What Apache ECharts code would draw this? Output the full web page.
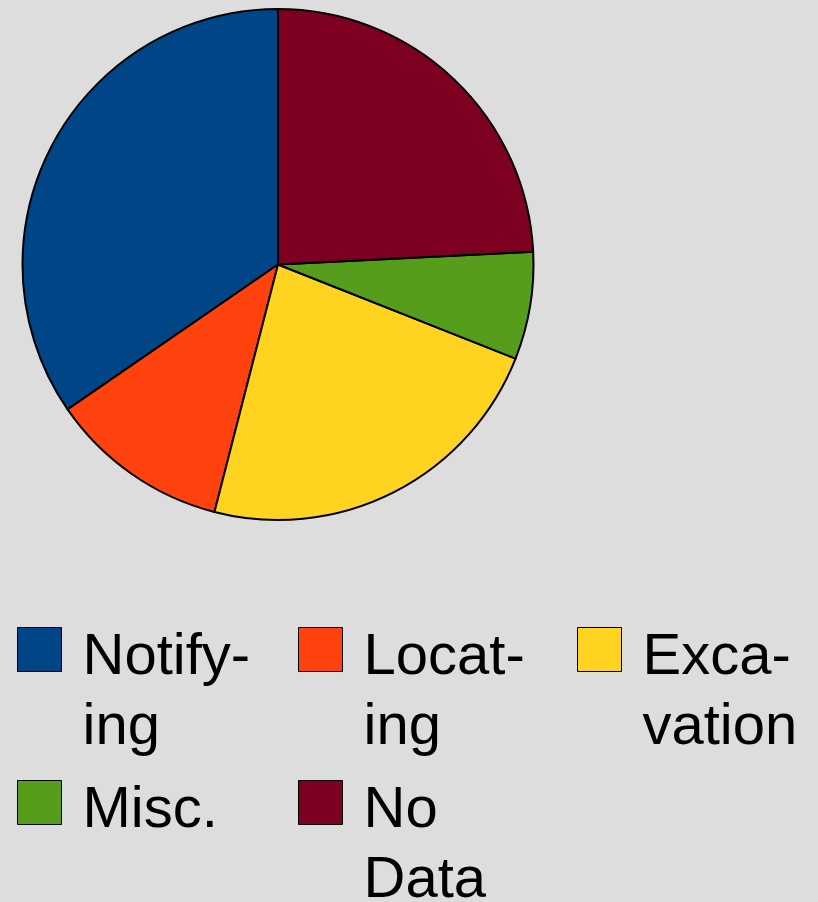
<!DOCTYPE html>
<html>
<head>
<meta charset="utf-8">
<script src="https://cdn.jsdelivr.net/npm/echarts@6/dist/echarts.min.js"></script>
<style>
  html, body { margin: 0; padding: 0; background: #dddddd; }
  #chart { width: 818px; height: 902px; }
</style>
</head>
<body>
<div id="chart"></div>
<script>
// categories, in the order the slices run (counter-clockwise from 12 o'clock)
const categories = ['Notifying', 'Locating', 'Excavation', 'Misc.', 'No Data']
// share of each slice, percent
const shares = [34.6, 11.4, 23.0, 6.8, 24.2]
// legend text lines, hyphenated as in the picture
const legendLines = [['Notify-', 'ing'], ['Locat-', 'ing'], ['Exca-', 'vation'], ['Misc.'], ['No', 'Data']]
const colors = ['#004586', '#ff420e', '#ffd320', '#579d1c', '#7e0021']

const chart = echarts.init(document.getElementById('chart'))

// one legend per entry so each sits in its own column
const legendPos = [
  { left: 17, top: 574.5 },
  { left: 298, top: 574.5 },
  { left: 577, top: 574.5 },
  { left: 17, top: 762.5 },
  { left: 298, top: 727.5 }
]

// the legend centres the whole text block on the icon; a spacer line on top
// pushes the first line down so it sits beside the swatch
const legends = categories.map((name, i) => {
  const lines = legendLines[i]
  const spacer = lines.length > 1 ? 'sp2' : 'sp1'
  return {
    data: [name],
    left: legendPos[i].left,
    top: legendPos[i].top,
    padding: 0,
    orient: 'vertical',
    icon: 'rect',
    itemWidth: 44,
    itemHeight: 44,
    selectedMode: false,
    itemStyle: { borderColor: '#000', borderWidth: 1 },
    formatter: () => '{' + spacer + '| }\n' + lines.map(l => '{t|' + l + '}').join('\n'),
    textStyle: {
      fontFamily: 'Liberation Sans',
      fontSize: 58,
      color: '#000',
      padding: [0, 0, 0, 16],
      rich: {
        sp1: { fontSize: 10, lineHeight: 17 },
        sp2: { fontSize: 10, lineHeight: 87 },
        t: { fontFamily: 'Liberation Sans', fontSize: 58, lineHeight: 70, color: '#000' }
      }
    }
  }
})

chart.setOption({
  backgroundColor: '#dddddd',
  animation: false,
  color: colors,
  legend: legends,
  series: [
    {
      type: 'pie',
      center: [278, 264.5],
      radius: 255.5,
      startAngle: 90,
      clockwise: false,
      label: { show: false },
      labelLine: { show: false },
      emphasis: { disabled: true },
      itemStyle: { borderColor: '#000', borderWidth: 2 },
      data: categories.map((name, i) => ({ name, value: shares[i] }))
    }
  ]
})
</script>
</body>
</html>
